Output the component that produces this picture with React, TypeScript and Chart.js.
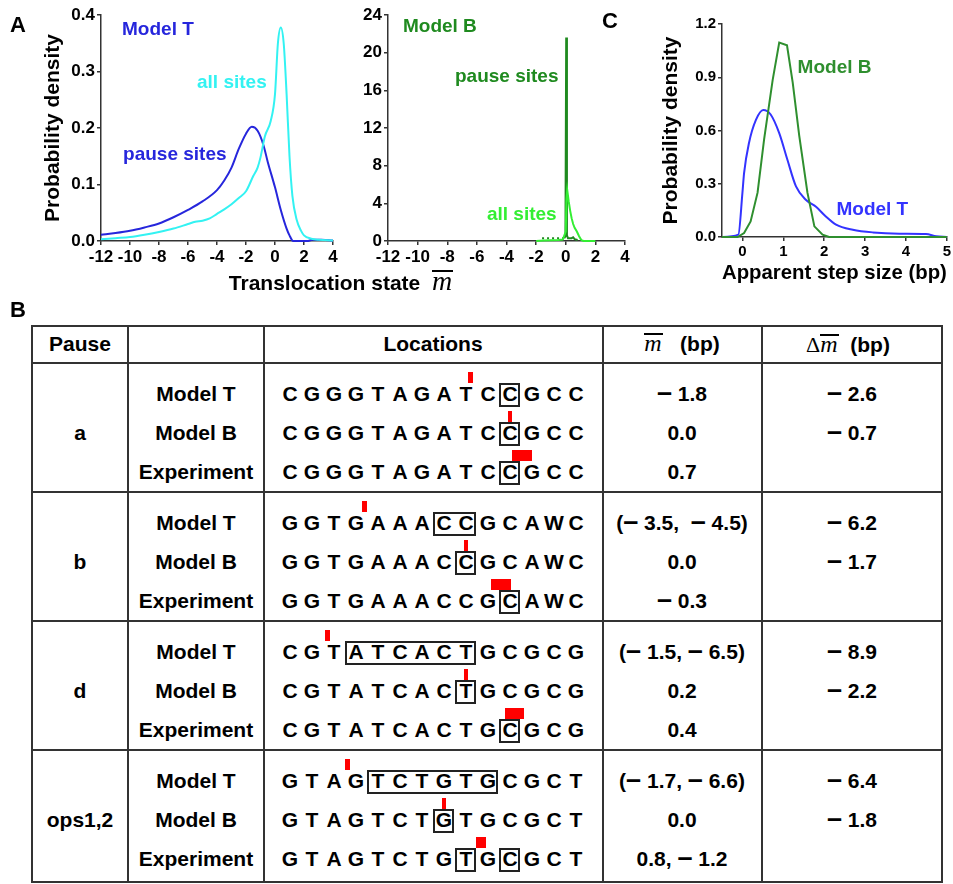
import React, { useEffect, useRef } from 'react';
import { Chart, registerables } from 'chart.js';
Chart.register(...registerables);

const FONT = "'Liberation Sans', Arial, Helvetica, sans-serif";
const SERIF = "'Liberation Serif', 'Times New Roman', serif";

// ---------- Panel A (left): Model T ----------
const tPauseX = [-12, -11, -10, -9, -8, -7, -6, -5, -4, -3.5, -3, -2.5, -2, -1.6, -1.2, -0.8, -0.5, 0, 0.4, 0.8, 1.0, 1.25, 2.2, 2.6, 3.2, 4];
const tPauseY = [0.011, 0.014, 0.018, 0.024, 0.031, 0.042, 0.055, 0.07, 0.09, 0.107, 0.13, 0.163, 0.19, 0.202, 0.195, 0.17, 0.14, 0.095, 0.055, 0.022, 0.01, 0, 0, 0.002, 0.002, 0.001];
const tAllX = [-12, -11, -10, -9, -8, -7, -6, -5.5, -5, -4.5, -4, -3.5, -3, -2.5, -2, -1.5, -1.2, -1, -0.7, -0.3, 0, 0.2, 0.4, 0.6, 0.8, 1.0, 1.2, 1.5, 1.8, 2, 2.5, 3, 4];
const tAllY = [0.003, 0.005, 0.007, 0.011, 0.016, 0.022, 0.03, 0.034, 0.036, 0.04, 0.048, 0.056, 0.065, 0.076, 0.088, 0.115, 0.13, 0.148, 0.185, 0.212, 0.26, 0.35, 0.378, 0.35, 0.26, 0.15, 0.08, 0.037, 0.018, 0.01, 0.004, 0.002, 0.001];

// ---------- Panel A (right): Model B ----------
const bAllX = [-2, -1.5, -1, -0.5, -0.2, 0, 0.05, 0.1, 0.2, 0.3, 0.4, 0.5, 0.6, 0.75, 0.9, 1.05, 1.2, 2];
const bAllY = [0, 0.05, 0.08, 0.1, 0.15, 1.0, 4.5, 5.4, 4.2, 3.2, 2.4, 1.8, 1.4, 1.0, 0.5, 0.1, 0, 0];
const bPauseX = [-1.6, -0.1, -0.02, 0.03, 0.08, 0.15, 0.4, 0.5, 0.6, 0.8];
const bPauseY = [0.3, 0.3, 0.5, 21.6, 0.6, 0.3, 0.3, 0.4, 0.2, 0.1];

// ---------- Panel C: apparent step size ----------
const cBX = [-0.5, -0.12, 0.04, 0.2, 0.37, 0.53, 0.74, 0.9, 1.09, 1.23, 1.39, 1.59, 1.76, 1.96, 2.12, 5];
const cBY = [0, 0, 0.022, 0.088, 0.25, 0.55, 0.885, 1.095, 1.08, 0.87, 0.57, 0.25, 0.06, 0.013, 0, 0];
const cTX = [-0.5, -0.1, 0, 0.04, 0.16, 0.33, 0.51, 0.69, 0.9, 1.1, 1.31, 1.55, 1.8, 2.04, 2.29, 2.7, 3.19, 3.84, 4.49, 4.74, 5];
const cTY = [0, 0.013, 0.25, 0.36, 0.53, 0.66, 0.716, 0.69, 0.585, 0.435, 0.285, 0.21, 0.17, 0.116, 0.07, 0.041, 0.026, 0.019, 0.017, 0.004, 0];
const cXTicks = [0, 1, 2, 3, 4, 5];

// ---------- Panel B table ----------
const pauseNames = ['a', 'b', 'd', 'ops1,2'];
const rowNames = ['Model T', 'Model B', 'Experiment'];
const sequences = ['CGGGTAGATCCGCC', 'GGTGAAACCGCAWC', 'CGTATCACTGCGCG', 'GTAGTCTGTGCGCT'];
const boxedRanges = [
  [[[10, 10]], [[10, 10]], [[10, 10]]],
  [[[7, 8]], [[8, 8]], [[10, 10]]],
  [[[3, 8]], [[8, 8]], [[10, 10]]],
  [[[4, 9]], [[7, 7]], [[8, 8], [10, 10]]],
];
const markCenters = [
  [8.2, 10, 10.55],
  [3.4, 8, 9.6],
  [1.7, 8, 10.2],
  [2.6, 7, 8.7],
];
const markSpans = [
  [0.22, 0.22, 0.9],
  [0.22, 0.22, 0.9],
  [0.22, 0.22, 0.9],
  [0.22, 0.22, 0.45],
];
const mBarValues = [
  ['\u2013 1.8', '0.0', '0.7'],
  ['(\u2013 3.5,  \u2013 4.5)', '0.0', '\u2013 0.3'],
  ['(\u2013 1.5, \u2013 6.5)', '0.2', '0.4'],
  ['(\u2013 1.7, \u2013 6.6)', '0.0', '0.8, \u2013 1.2'],
];
const deltaValues = [
  ['\u2013 2.6', '\u2013 0.7', ''],
  ['\u2013 6.2', '\u2013 1.7', ''],
  ['\u2013 8.9', '\u2013 2.2', ''],
  ['\u2013 6.4', '\u2013 1.8', ''],
];

const textPlugin = {
  id: 'panelText',
  afterDatasetsDraw(chart: any, _a: any, opts: any) {
    const items = (opts && opts.items) || [];
    const { ctx } = chart;
    const xs = chart.scales.x;
    const ys = chart.scales.y;
    ctx.save();
    ctx.font = `bold 19px ${FONT}`;
    ctx.textAlign = 'left';
    ctx.textBaseline = 'middle';
    for (let i = 0; i < items.length; i++) {
      const it = items[i];
      ctx.fillStyle = it.color;
      ctx.fillText(it.text, xs.getPixelForValue(it.x), ys.getPixelForValue(it.y));
    }
    ctx.restore();
  },
};

function series(xs: number[], ys: number[], color: string, smooth: boolean, extra: any = {}) {
  return {
    data: xs.map((x, i) => ({ x, y: ys[i] })),
    borderColor: color,
    backgroundColor: color,
    borderWidth: 2,
    pointRadius: 0,
    fill: false,
    clip: false,
    tension: smooth ? 0.4 : 0,
    cubicInterpolationMode: smooth ? 'monotone' : 'default',
    ...extra,
  };
}

function axis(min: number, max: number, step: number, size: number, fixed: { w?: number; h?: number }, dec: number, title?: any, extra: any = {}) {
  return {
    type: 'linear',
    min,
    max,
    ticks: {
      stepSize: step,
      color: '#000',
      font: { family: FONT, size, weight: 'bold' },
      padding: 2,
      maxRotation: 0,
      autoSkip: false,
      callback: (v: any) => Number(v).toFixed(dec),
    },
    grid: { drawOnChartArea: false, drawTicks: true, tickLength: 4, color: '#333', lineWidth: 1.5 },
    border: { display: true, color: '#333', width: 1.5 },
    title: title || { display: false },
    afterFit: (s: any) => {
      if (fixed.w !== undefined) s.width = fixed.w;
      if (fixed.h !== undefined) s.height = fixed.h;
    },
    ...extra,
  };
}

function makeConfig(datasets: any[], x: any, y: any, padding: any, items: any[]) {
  return {
    type: 'line',
    data: { datasets },
    options: {
      animation: false,
      responsive: false,
      events: [],
      layout: { padding },
      scales: { x, y },
      plugins: { legend: { display: false }, tooltip: { enabled: false }, panelText: { items } },
    },
    plugins: [textPlugin],
  } as any;
}

const yTitle = (pad: number) => ({
  display: true,
  text: 'Probability density',
  color: '#000',
  font: { family: FONT, size: 21, weight: 'bold' },
  padding: { top: pad, bottom: 0 },
});

function Charts() {
  const r1 = useRef<HTMLCanvasElement>(null);
  const r2 = useRef<HTMLCanvasElement>(null);
  const r3 = useRef<HTMLCanvasElement>(null);
  useEffect(() => {
    const blue = '#2626dc';
    const cyan = '#33f2f2';
    const dkGreen = '#1f8a1f';
    const ltGreen = '#33ee33';
    const c1 = new Chart(
      r1.current!,
      makeConfig(
        [series(tAllX, tAllY, cyan, true), series(tPauseX, tPauseY, blue, true)],
        axis(-12, 4, 2, 17, { h: 59 }, 0),
        axis(0, 0.4, 0.1, 17, { w: 81 }, 1, yTitle(21)),
        { top: 15, right: 12, left: 0, bottom: 0 },
        [
          { text: 'Model T', x: -10.55, y: 0.373, color: blue },
          { text: 'all sites', x: -5.38, y: 0.28, color: cyan },
          { text: 'pause sites', x: -10.48, y: 0.152, color: blue },
        ]
      )
    );
    const c2 = new Chart(
      r2.current!,
      makeConfig(
        [
          series(bAllX, bAllY, ltGreen, false),
          series(bPauseX, bPauseY, dkGreen, false, {
            segment: { borderDash: (c: any) => (c.p1.parsed.x <= -0.1 ? [2, 3] : []) },
          }),
        ],
        axis(-12, 4, 2, 17, { h: 59 }, 0),
        axis(0, 24, 4, 17, { w: 43 }, 0),
        { top: 15, right: 10, left: 0, bottom: 0 },
        [
          { text: 'Model B', x: -10.99, y: 22.7, color: dkGreen },
          { text: 'pause sites', x: -7.48, y: 17.4, color: dkGreen },
          { text: 'all sites', x: -5.32, y: 2.76, color: ltGreen },
        ]
      )
    );
    const cGreen = '#2f8f2f';
    const cBlue = '#3333ff';
    const c3 = new Chart(
      r3.current!,
      makeConfig(
        [series(cBX, cBY, cGreen, false), series(cTX, cTY, cBlue, true)],
        axis(-0.5, 5, 1, 15, { h: 63 }, 0, {
          display: true,
          text: 'Apparent step size (bp)',
          color: '#000',
          font: { family: FONT, size: 21, weight: 'bold' },
          padding: { top: 0, bottom: 14 },
        }, {
          afterBuildTicks: (s: any) => {
            s.ticks = cXTicks.map((v) => ({ value: v }));
          },
        }),
        axis(0, 1.2, 0.3, 15, { w: 82 }, 1, yTitle(19)),
        { top: 24, right: 6, left: 0, bottom: 0 },
        [
          { text: 'Model B', x: 1.35, y: 0.956, color: cGreen },
          { text: 'Model T', x: 2.3, y: 0.152, color: cBlue },
        ]
      )
    );
    return () => {
      c1.destroy();
      c2.destroy();
      c3.destroy();
    };
  }, []);
  const abs = (left: number, top: number): React.CSSProperties => ({ position: 'absolute', left, top });
  return (
    <>
      <canvas ref={r1} width={325} height={300} style={abs(20, 0)} />
      <canvas ref={r2} width={290} height={300} style={abs(345, 0)} />
      <canvas ref={r3} width={313} height={300} style={abs(640, 0)} />
    </>
  );
}

function MBar({ size, lh }: { size: number; lh: number }) {
  return (
    <span
      style={{
        display: 'inline-block',
        fontFamily: SERIF,
        fontStyle: 'italic',
        fontWeight: 'normal',
        fontSize: size,
        lineHeight: `${lh}px`,
        borderTop: '2px solid #000',
        paddingRight: 1,
      }}
    >
      m
    </span>
  );
}

function withDashes(s: string) {
  const parts = s.split('\u2013');
  const out: any[] = [];
  parts.forEach((p, i) => {
    if (i > 0)
      out.push(
        <span key={'d' + i} style={{ fontSize: 27, fontWeight: 'bold', lineHeight: 0 }}>
          {'\u2013'}
        </span>
      );
    out.push(<span key={'p' + i}>{p}</span>);
  });
  return out;
}

function Cell({ cx, cy, children, w = 300 }: { cx: number; cy: number; children: any; w?: number }) {
  return (
    <div
      style={{
        position: 'absolute',
        left: cx - w / 2,
        width: w,
        top: cy - 13,
        height: 26,
        lineHeight: '26px',
        textAlign: 'center',
        font: `bold 21px ${FONT}`,
        color: '#000',
        whiteSpace: 'pre',
      }}
    >
      {children}
    </div>
  );
}

function Table() {
  const L = 32, T = 326, R = 942, B = 882;
  const hLines = [363, 492, 621, 750];
  const vLines = [128, 264, 603, 762];
  const groupTops = [363, 492, 621, 750];
  const rowOff = [32, 71, 110];
  const colC = [80, 196, 433, 682, 852];
  const seqLeft = 279;
  const pitch = 22;
  const line = '#333';
  const els: any[] = [];
  els.push(
    <div key="outer" style={{ position: 'absolute', left: L - 1, top: T - 1, width: R - L + 2, height: B - T + 2, border: `2px solid ${line}`, boxSizing: 'border-box' }} />
  );
  hLines.forEach((y, i) =>
    els.push(<div key={'h' + i} style={{ position: 'absolute', left: L, width: R - L, top: y - 1, height: 2, background: line }} />)
  );
  vLines.forEach((x, i) =>
    els.push(<div key={'v' + i} style={{ position: 'absolute', top: T, height: B - T, left: x - 1, width: 2, background: line }} />)
  );
  const hy = 345;
  els.push(<Cell key="hp" cx={colC[0]} cy={hy} w={90}>Pause</Cell>);
  els.push(<Cell key="hl" cx={colC[2]} cy={hy}>Locations</Cell>);
  els.push(
    <Cell key="hm" cx={colC[3]} cy={hy} w={150}>
      <MBar size={24} lh={17} />
      {'   (bp)'}
    </Cell>
  );
  els.push(
    <Cell key="hd" cx={colC[4] - 4} cy={hy} w={170}>
      <span style={{ fontFamily: SERIF, fontWeight: 'normal', fontSize: 22 }}>{'\u0394'}</span>
      <MBar size={24} lh={17} />
      {'  (bp)'}
    </Cell>
  );
  groupTops.forEach((gt, g) => {
    els.push(<Cell key={'p' + g} cx={colC[0]} cy={gt + rowOff[1]} w={90}>{pauseNames[g]}</Cell>);
    rowOff.forEach((ro, r) => {
      const cy = gt + ro;
      els.push(<Cell key={`n${g}-${r}`} cx={colC[1]} cy={cy} w={134}>{rowNames[r]}</Cell>);
      els.push(<Cell key={`m${g}-${r}`} cx={colC[3]} cy={cy} w={156}>{withDashes(mBarValues[g][r])}</Cell>);
      els.push(<Cell key={`d${g}-${r}`} cx={colC[4]} cy={cy} w={176}>{withDashes(deltaValues[g][r])}</Cell>);
      sequences[g].split('').forEach((ch, i) =>
        els.push(
          <div
            key={`s${g}-${r}-${i}`}
            style={{
              position: 'absolute',
              left: seqLeft + i * pitch,
              width: pitch,
              top: cy - 13,
              height: 26,
              lineHeight: '26px',
              textAlign: 'center',
              font: `bold 21px ${FONT}`,
              color: '#000',
            }}
          >
            {ch}
          </div>
        )
      );
      boxedRanges[g][r].forEach(([s, e], k) =>
        els.push(
          <div
            key={`b${g}-${r}-${k}`}
            style={{
              position: 'absolute',
              left: seqLeft + s * pitch,
              width: (e - s + 1) * pitch - 1,
              top: cy - 12,
              height: 24,
              border: '2px solid #222',
              boxSizing: 'border-box',
            }}
          />
        )
      );
      const mw = Math.max(4, markSpans[g][r] * pitch);
      const mx = seqLeft + (markCenters[g][r] + 0.5) * pitch;
      els.push(
        <div key={`r${g}-${r}`} style={{ position: 'absolute', left: mx - mw / 2, width: mw, top: cy - 23, height: 11, background: '#ff0000' }} />
      );
    });
  });
  return <>{els}</>;
}

export default function App() {
  const label = (t: string, left: number, top: number) => (
    <div style={{ position: 'absolute', left, top, font: `bold 22px ${FONT}`, lineHeight: '22px', color: '#000' }}>{t}</div>
  );
  return (
    <div style={{ position: 'absolute', left: 0, top: 0, width: 953, height: 884, background: '#fff', overflow: 'hidden' }}>
      <Charts />
      <div
        style={{
          position: 'absolute',
          left: 0,
          width: 682,
          top: 270,
          height: 28,
          lineHeight: '28px',
          textAlign: 'center',
          font: `bold 21px ${FONT}`,
          color: '#000',
          whiteSpace: 'pre',
        }}
      >
        {'Translocation state  '}
        <MBar size={28} lh={18} />
      </div>
      {label('A', 10, 14)}
      {label('C', 602, 10)}
      {label('B', 10, 299)}
      <Table />
    </div>
  );
}
